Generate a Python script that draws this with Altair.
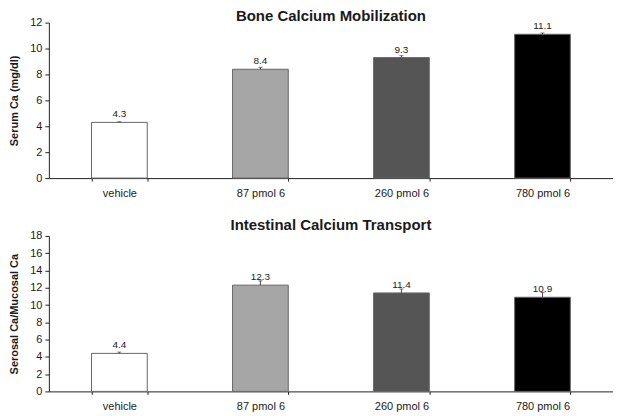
import altair as alt
import pandas as pd

categories = ["vehicle", "87 pmol 6", "260 pmol 6", "780 pmol 6"]
bar_colors = ["#ffffff", "#a6a6a6", "#555555", "#000000"]

bone_values = [4.3, 8.4, 9.3, 11.1]
bone_err = [0.05, 0.15, 0.15, 0.1]
bone_ticks = [0, 2, 4, 6, 8, 10, 12]

intestinal_values = [4.4, 12.3, 11.4, 10.9]
intestinal_err = [0.15, 0.5, 0.45, 0.55]
intestinal_ticks = [0, 2, 4, 6, 8, 10, 12, 14, 16, 18]

FONT = "Liberation Sans"


def panel(values, errs, title, ytitle, ymax, ticks, height, title_offset):
    df = pd.DataFrame({
        "cat": categories,
        "v": values,
        "top": [v + e for v, e in zip(values, errs)],
        "label": [f"{v:.1f}" for v in values],
    })
    base = alt.Chart(df)
    x = alt.X(
        "cat:N", sort=categories,
        scale=alt.Scale(paddingInner=0.605, paddingOuter=0.3025),
        axis=alt.Axis(title=None, labelAngle=0, tickBand="extent", tickSize=3,
                      labelPadding=6, labelFontSize=11, labelColor="#1a1a1a",
                      domainColor="#222222", tickColor="#222222", labelFont=FONT),
    )
    yscale = alt.Scale(domain=[0, ymax], nice=False)
    yaxis = alt.Axis(title=ytitle, values=ticks, tickCount=len(ticks) + 5, grid=False, tickSize=4,
                     labelOverlap=False, labelFlush=False,
                     labelFontSize=11, labelColor="#1a1a1a", labelPadding=3,
                     titleFontSize=11, titleFontWeight="bold", titleColor="#1a1a1a",
                     titlePadding=10, domainColor="#222222", tickColor="#222222",
                     labelFont=FONT, titleFont=FONT)
    y = alt.Y("v:Q", scale=yscale, axis=yaxis)
    ytop = alt.Y("top:Q", scale=yscale, axis=yaxis)
    bars = base.mark_bar(stroke="#666666", strokeWidth=1).encode(
        x=x, y=y,
        color=alt.Color("cat:N", scale=alt.Scale(domain=categories, range=bar_colors), legend=None),
    )
    err = base.mark_rule(color="#444444").encode(x=x, y=y, y2="top:Q")
    cap = base.mark_tick(thickness=1, size=4, color="#444444").encode(x=x, y=ytop)
    text = base.mark_text(baseline="bottom", dy=-3, fontSize=10, font=FONT, color="#1a1a1a").encode(
        x=x, y=y, text="label:N"
    )
    return alt.layer(bars, err, cap, text).properties(
        width=566, height=height,
        title=alt.TitleParams(title, fontSize=15, fontWeight="bold", font=FONT,
                              color="#1a1a1a", offset=title_offset, anchor="middle"),
    )


top = panel(bone_values, bone_err, "Bone Calcium Mobilization", "Serum Ca (mg/dl)",
            12, bone_ticks, 156, -7)
bottom = panel(intestinal_values, intestinal_err, "Intestinal Calcium Transport",
               "Serosal Ca/Mucosal Ca", 18, intestinal_ticks, 156, -3)

chart = alt.vconcat(top, bottom, spacing=20).properties(padding=0).configure_view(stroke=None)

chart.save("out.html", embed_options={"renderer": "svg", "actions": False})
